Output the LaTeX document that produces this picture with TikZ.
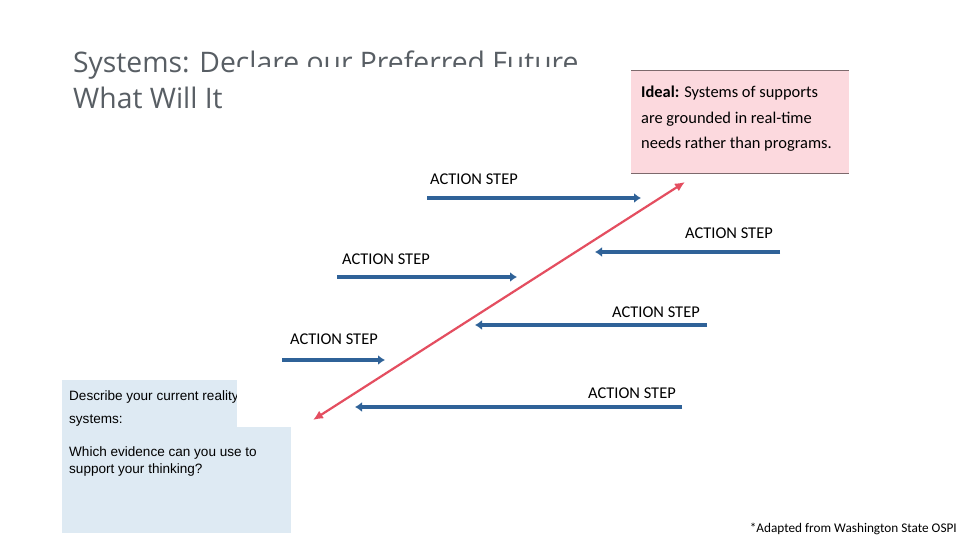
\documentclass[tikz,border=0pt]{standalone}
\usepackage{fontspec}
\setmainfont{Carlito}
\newfontfamily\titlefont{Open Sans}
\newfontfamily\realfont{Liberation Sans}
\usetikzlibrary{arrows.meta}
\definecolor{StepBlue}{RGB}{47,98,152}
\definecolor{IdealRed}{RGB}{228,78,96}
\definecolor{IdealFill}{RGB}{252,217,222}
\definecolor{IdealLine}{RGB}{125,105,108}
\definecolor{RealFill}{RGB}{222,234,243}
\definecolor{TitleGray}{RGB}{88,94,100}

\begin{document}
\begin{tikzpicture}[x=1bp,y=-1bp]
    \tikzset{ ttl/.style ={anchor=base west, inner sep=0pt, text=TitleGray, font=\titlefont\fontsize{28.4}{32}\selectfont} }
    \tikzset{ stp/.style ={anchor=base west, inner sep=0pt, text=black, font=\fontsize{16.5}{18}\selectfont} }
    \tikzset{ sarr/.style={draw=StepBlue, line width=4bp, -{Latex[length=7bp,width=10bp]}} }
    \tikzset{ real/.style={anchor=base west, inner sep=0pt, text=black, font=\realfont\fontsize{13.6}{16}\selectfont} }

    \useasboundingbox[fill=white] (0,0) rectangle (960,540);

    % title and current reality box (partly hidden under the white sheet)
    \node[ttl] (title1) at (73,73)  {Systems: Declare our Preferred Future};
    \node[ttl] (title2) at (73,109) {What Will It};
    \fill[RealFill] (62,380) rectangle (291,533);
    \node[real] (real1) at (69,400) {Describe your current reality of};
    \node[real] (real2) at (69,423) {systems:};
    \node[real] (real3) at (69,456) {Which evidence can you use to};
    \node[real] (real4) at (69,473) {support your thinking?};
    \fill[white] (237,67) rectangle (625,427);

    % ideal
    \fill[IdealFill] (631,70) rectangle (849,173);
    \draw[IdealLine, line width=0.8bp] (631,70) -- (849,70) (631,173) -- (849,173);
    \node[anchor=base west, inner sep=0pt, align=left, font=\fontsize{16.5}{26}\selectfont] (ideal) at (641,149)
        {\textbf{Ideal:} Systems of supports\\are grounded in real-time\\needs rather than programs.};

    \coordinate (now) at (313,420);
    \coordinate (goal) at (685,182);
    \draw[IdealRed, line width=2.2bp, {Latex[length=10bp,width=9bp]}-{Latex[length=10bp,width=9bp]}] (now) -- (goal);

    % action steps
    \coordinate (s1a) at (427,198); \coordinate (s1b) at (641,198);
    \coordinate (s2a) at (780,252); \coordinate (s2b) at (595,252);
    \coordinate (s3a) at (337,277); \coordinate (s3b) at (517,277);
    \coordinate (s4a) at (707,325); \coordinate (s4b) at (475,325);
    \coordinate (s5a) at (282,360); \coordinate (s5b) at (385,360);
    \coordinate (s6a) at (682,407); \coordinate (s6b) at (355,407);
    \draw[sarr] (s1a) -- (s1b);
    \draw[sarr] (s2a) -- (s2b);
    \draw[sarr] (s3a) -- (s3b);
    \draw[sarr] (s4a) -- (s4b);
    \draw[sarr] (s5a) -- (s5b);
    \draw[sarr] (s6a) -- (s6b);

    \node[stp] (l1) at (430,184.5) {ACTION STEP};
    \node[stp] (l2) at (685,238.5) {ACTION STEP};
    \node[stp] (l3) at (342,264.5) {ACTION STEP};
    \node[stp] (l4) at (612,317.5) {ACTION STEP};
    \node[stp] (l5) at (290,344.5) {ACTION STEP};
    \node[stp] (l6) at (588,398.5) {ACTION STEP};

    \node[anchor=base east, inner sep=0pt, font=\fontsize{13.3}{15}\selectfont] (note) at (957,532)
        {*Adapted from Washington State OSPI};
\end{tikzpicture}
\end{document}
